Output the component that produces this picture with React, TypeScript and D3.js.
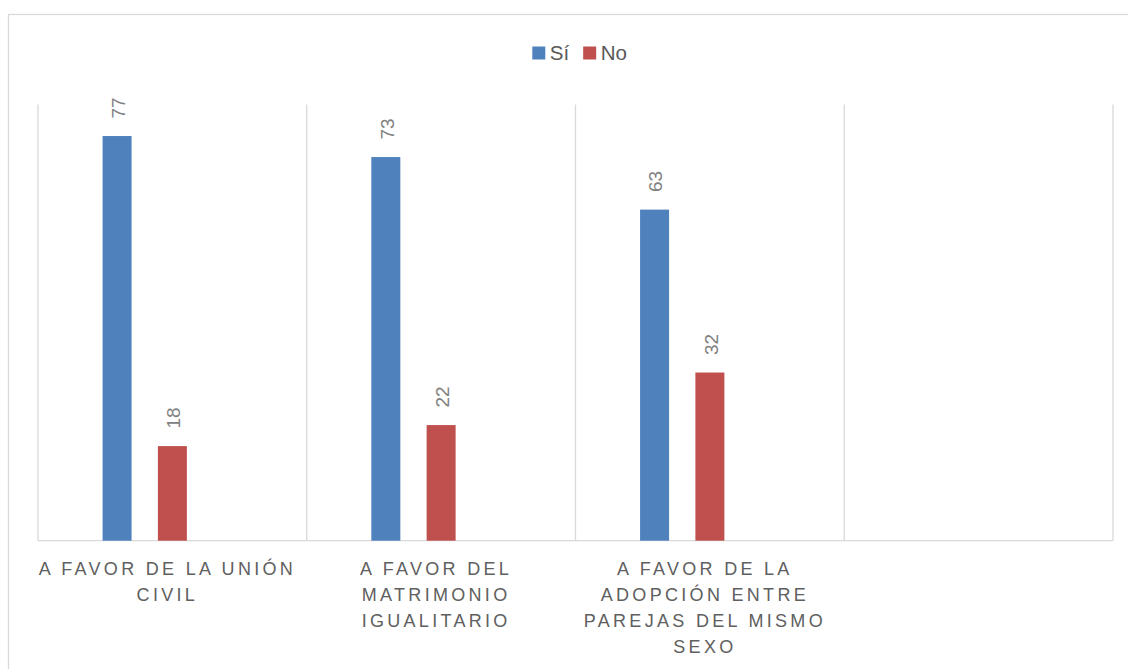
import React, { useEffect, useRef } from 'react';
import * as d3 from 'd3';

// categories (the 4th slot is empty in the original sheet)
const categories = [
  'A FAVOR DE LA UNIÓN CIVIL',
  'A FAVOR DEL MATRIMONIO IGUALITARIO',
  'A FAVOR DE LA ADOPCIÓN ENTRE PAREJAS DEL MISMO SEXO',
  '',
];
const categoryLines = [
  ['A FAVOR DE LA UNIÓN', 'CIVIL'],
  ['A FAVOR DEL', 'MATRIMONIO', 'IGUALITARIO'],
  ['A FAVOR DE LA', 'ADOPCIÓN ENTRE', 'PAREJAS DEL MISMO', 'SEXO'],
  [],
];
const seriesNames = ['Sí', 'No'];
const seriesColors = ['#4f81bd', '#c0504d'];
// third slot is a blank series, keeps bars off-centre like the source
const slotKeys = ['Sí', 'No', 'blank'];
const siValues = [77, 73, 63];
const noValues = [18, 22, 32];
const yMax = 83;

const W = 1128;
const H = 669;

const App: React.FC = () => {
  const svgRef = useRef<SVGSVGElement | null>(null);

  useEffect(() => {
    const svgEl = svgRef.current;
    if (!svgEl) return;
    const svg = d3.select(svgEl);
    svg.selectAll('*').remove();

    const plot = { left: 38, right: 1113, top: 104.5, bottom: 540.7 };
    const grid = '#d9d9d9';

    // outer chart border (runs off the page right and bottom)
    svg.append('rect')
      .attr('x', 8.5).attr('y', 14.5)
      .attr('width', W).attr('height', H)
      .attr('fill', '#fff').attr('stroke', grid).attr('stroke-width', 1.3);

    const x0 = d3.scaleBand<number>()
      .domain(d3.range(categories.length))
      .range([plot.left, plot.right])
      .padding(0);

    const x1 = d3.scaleBand<string>()
      .domain(slotKeys)
      .range([0, x0.bandwidth()])
      .paddingInner(0.4756)
      .paddingOuter(1.168);

    const y = d3.scaleLinear().domain([0, yMax]).range([plot.bottom, plot.top]);

    // category dividers
    const dividers = d3.range(categories.length + 1).map((i) =>
      i < categories.length ? x0(i)! : x0(categories.length - 1)! + x0.bandwidth()
    );
    svg.append('g').selectAll('line').data(dividers).enter().append('line')
      .attr('x1', (d) => d).attr('x2', (d) => d)
      .attr('y1', plot.top).attr('y2', plot.bottom)
      .attr('stroke', grid).attr('stroke-width', 1.3);

    svg.append('line')
      .attr('x1', plot.left).attr('x2', plot.right)
      .attr('y1', plot.bottom).attr('y2', plot.bottom)
      .attr('stroke', grid).attr('stroke-width', 1.3);

    const series = [siValues, noValues];
    series.forEach((vals, si) => {
      const g = svg.append('g');
      g.selectAll('rect').data(vals).enter().append('rect')
        .attr('x', (_, i) => x0(i)! + x1(slotKeys[si])!)
        .attr('y', (d) => y(d))
        .attr('width', x1.bandwidth())
        .attr('height', (d) => plot.bottom - y(d))
        .attr('fill', seriesColors[si]);

      g.selectAll('text').data(vals).enter().append('text')
        .attr('transform', (d, i) => {
          const cx = x0(i)! + x1(slotKeys[si])! + x1.bandwidth() / 2 + 1;
          return `translate(${cx},${y(d) - 17.5}) rotate(-90)`;
        })
        .attr('dy', '0.36em')
        .attr('font-family', '"Liberation Sans", Arial, sans-serif')
        .attr('font-size', 19)
        .attr('fill', '#808080')
        .text((d) => String(d));
    });

    // category labels
    const labels = svg.append('g')
      .attr('font-family', '"Liberation Sans", Arial, sans-serif')
      .attr('font-size', 18)
      .attr('letter-spacing', 3.3)
      .attr('fill', '#606060')
      .attr('text-anchor', 'middle');
    categoryLines.forEach((lines, i) => {
      const cx = x0(i)! + x0.bandwidth() / 2 - 5;
      lines.forEach((ln, li) => {
        labels.append('text')
          .attr('x', cx)
          .attr('y', 575 + li * 26)
          .text(ln);
      });
    });

    // legend
    const legend = svg.append('g')
      .attr('font-family', '"Liberation Sans", Arial, sans-serif')
      .attr('font-size', 20.5)
      .attr('fill', '#595959');
    let lx = 532.3;
    seriesNames.forEach((name, i) => {
      legend.append('rect')
        .attr('x', lx).attr('y', 46.5)
        .attr('width', 13).attr('height', 13)
        .attr('fill', seriesColors[i]);
      const t = legend.append('text')
        .attr('x', lx + 17.5).attr('y', 60)
        .text(name);
      const tw = (t.node() as SVGTextElement).getComputedTextLength();
      lx += 17.5 + tw + 14;
    });
  }, []);

  return (
    <svg
      ref={svgRef}
      width={W}
      height={H}
      style={{ position: 'absolute', left: 0, top: 0, display: 'block', background: '#fff' }}
    />
  );
};

export default App;
